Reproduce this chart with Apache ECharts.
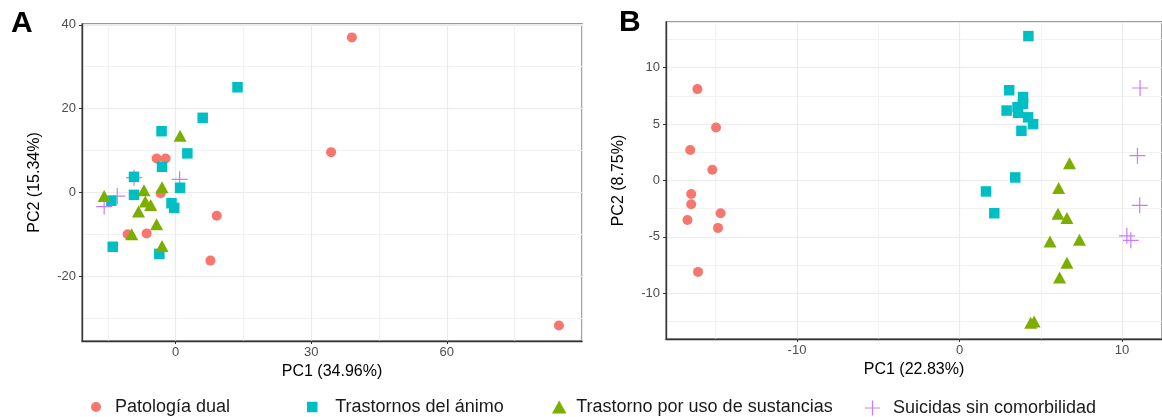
<!DOCTYPE html>
<html>
<head>
<meta charset="utf-8">
<script src="https://cdn.jsdelivr.net/npm/echarts@6/dist/echarts.min.js"></script>
<style>
  html, body { margin: 0; padding: 0; background: #fff; }
  #chart { width: 1162px; height: 417px; }
</style>
</head>
<body>
<div id="chart"></div>
<script>
// group names (legend order)
const groups = ['Patología dual', 'Trastornos del ánimo', 'Trastorno por uso de sustancias', 'Suicidas sin comorbilidad'];

// panel A: [PC1, PC2] scores
const dualA = [[39.0, 37.0], [34.4, 9.6], [84.8, -31.8], [9.1, -5.6], [7.7, -16.3], [-4.2, 8.1], [-2.2, 8.1], [-3.3, -0.2], [-6.4, -9.8], [-10.6, -10.0]];
const animoA = [[13.7, 25.1], [6.0, 17.8], [-3.1, 14.6], [2.6, 9.3], [-3.0, 6.1], [-9.2, 3.7], [1.0, 1.1], [-9.2, -0.6], [-0.9, -2.6], [-0.3, -3.7], [-14.2, -2.0], [-13.9, -13.0], [-3.6, -14.7]];
const sustA = [[1.0, 13.5], [-15.8, -0.9], [-7.0, 0.5], [-3.0, 1.2], [-6.7, -2.2], [-5.5, -3.0], [-8.2, -4.6], [-4.2, -7.6], [-9.7, -10.0], [-3.0, -12.8]];
const suicA = [[0.9, 3.1], [-9.2, 3.5], [-12.9, -0.9], [-15.8, -3.4]];

// panel B: [PC1, PC2] scores
const dualB = [[-16.13, 8.1], [-14.98, 4.7], [-16.57, 2.7], [-15.21, 0.95], [-16.51, -1.2], [-16.51, -2.1], [-14.70, -2.9], [-16.74, -3.5], [-14.86, -4.2], [-16.09, -8.1]];
const animoB = [[4.24, 12.8], [3.06, 8.0], [3.91, 7.4], [3.91, 6.8], [2.90, 6.2], [3.57, 6.5], [3.61, 6.0], [4.22, 5.6], [4.53, 5.0], [3.81, 4.4], [3.43, 0.27], [1.63, -0.97], [2.14, -2.9]];
const sustB = [[6.77, 1.54], [6.10, -0.67], [6.06, -2.95], [6.61, -3.33], [5.57, -5.4], [7.38, -5.25], [6.61, -7.3], [6.16, -8.6], [4.38, -12.6], [4.59, -12.5]];
const suicB = [[11.11, 8.2], [10.95, 2.2], [11.09, -2.2], [10.30, -4.9], [10.54, -5.3]];

// axis titles
const xTitles = ['PC1 (34.96%)', 'PC1 (22.83%)'];
const yTitles = ['PC2 (15.34%)', 'PC2 (8.75%)'];

const FONT = '"Liberation Sans", Arial, sans-serif';
const COLORS = ['#F8766D', '#00BFC4', '#7CAE00', '#C77CFF'];
const PLUS = 'path://M5,0L5,10M0,5L10,5';

const chart = echarts.init(document.getElementById('chart'), null, { renderer: 'canvas' });

function tickFmt(step) {
  return (v) => (Math.abs(v / step - Math.round(v / step)) < 1e-6 ? String(Math.round(v)) : '');
}

function axis(gridIndex, min, max, splitNumber, step, name, isY) {
  return {
    type: 'value',
    gridIndex,
    min,
    max,
    splitNumber,
    name,
    nameLocation: 'middle',
    nameGap: isY ? 39 : 22,
    nameTextStyle: { color: '#000', fontSize: 16, fontFamily: FONT },
    axisLine: { show: true, onZero: false, lineStyle: { color: '#333', width: 1.3 } },
    axisTick: { show: true, length: 3, lineStyle: { color: '#333', width: 1 } },
    axisLabel: {
      color: '#4D4D4D', fontSize: 13, fontFamily: FONT, margin: isY ? 6 : 5,
      showMinLabel: false, showMaxLabel: false, formatter: tickFmt(step),
    },
    splitLine: { show: true, lineStyle: { color: '#EBEBEB', width: 1.2 } },
    minorTick: { show: false, splitNumber: 2 },
    minorSplitLine: { show: true, lineStyle: { color: '#F2F2F2', width: 1 } },
  };
}

function series(name, data, idx, symbol, size, extraStyle) {
  return {
    name,
    type: 'scatter',
    xAxisIndex: idx,
    yAxisIndex: idx,
    data,
    symbol,
    symbolSize: size,
    itemStyle: Object.assign({ color: COLORS[groups.indexOf(name)], opacity: 1 }, extraStyle || {}),
    emphasis: { disabled: true },
  };
}

function panelSeries(idx, dual, animo, sust, suic) {
  return [
    series(groups[3], suic, idx, PLUS, 16, { color: 'none', borderColor: COLORS[3], borderWidth: 1.2 }),
    series(groups[0], dual, idx, 'circle', 10),
    series(groups[1], animo, idx, 'rect', 10.5),
    series(groups[2], sust, idx, 'triangle', [13, 12]),
  ];
}

function legendItem(name, left, icon, w, h, style) {
  return {
    data: [name],
    left,
    top: 398,
    icon,
    itemWidth: w,
    itemHeight: h,
    itemGap: 0,
    padding: 0,
    selectedMode: false,
    itemStyle: style || {},
    textStyle: { color: '#1a1a1a', fontSize: 18, fontFamily: FONT },
  };
}

const option = {
  backgroundColor: '#fff',
  animation: false,
  title: [
    { text: 'A', left: 11, top: 9, padding: 0, textStyle: { fontSize: 30, fontWeight: 'bold', color: '#000', fontFamily: FONT } },
    { text: 'B', left: 619, top: 8, padding: 0, textStyle: { fontSize: 30, fontWeight: 'bold', color: '#000', fontFamily: FONT } },
  ],
  legend: [
    legendItem(groups[0], 91, 'circle', 28, 10),
    legendItem(groups[1], 307, 'path://M0,0L10,0L10,10L0,10Z', 36, 10.5),
    legendItem(groups[2], 552, 'path://M5,0L10,9L0,9Z', 24, 13),
    legendItem(groups[3], 862.5, PLUS, 31, 15, { color: 'none', borderColor: COLORS[3], borderWidth: 1.2 }),
  ],
  grid: [
    { left: 82, top: 24, right: 580, bottom: 76, show: true, borderColor: '#7a7a7a', borderWidth: 1.5 },
    { left: 666, top: 22, right: -3, bottom: 78, show: true, borderColor: '#7a7a7a', borderWidth: 1.5 },
  ],
  xAxis: [
    axis(0, -20.7, 89.9, 4, 30, xTitles[0], false),
    axis(1, -18.06, 12.46, 3, 10, xTitles[1], false),
  ],
  yAxis: [
    axis(0, -35.5, 40.2, 4, 20, yTitles[0], true),
    axis(1, -14.05, 14.05, 5, 5, yTitles[1], true),
  ],
  series: [
    ...panelSeries(0, dualA, animoA, sustA, suicA),
    ...panelSeries(1, dualB, animoB, sustB, suicB),
  ],
};

chart.setOption(option);
</script>
</body>
</html>
